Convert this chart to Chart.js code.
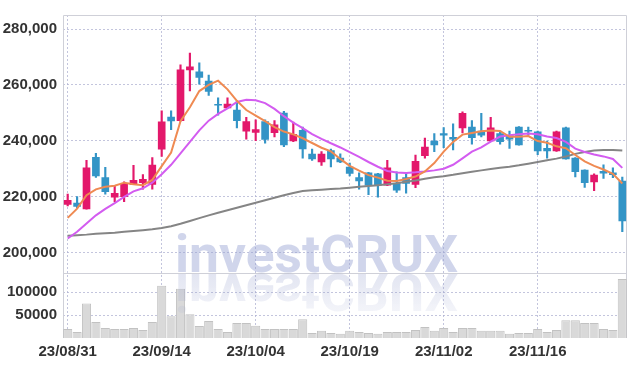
<!DOCTYPE html>
<html><head><meta charset="utf-8">
<script src="https://cdn.jsdelivr.net/npm/chart.js@4.4.1/dist/chart.umd.min.js"></script>
<style>html,body{margin:0;padding:0;background:#fff;}canvas{display:block;}</style>
</head><body>
<canvas id="c" width="637" height="366"></canvas>
<script>
const dates = ['23/08/31','23/09/01','23/09/04','23/09/05','23/09/06','23/09/07','23/09/08','23/09/11','23/09/12','23/09/13',
'23/09/14','23/09/15','23/09/18','23/09/19','23/09/20','23/09/21','23/09/22','23/09/25','23/09/26','23/09/27',
'23/10/04','23/10/05','23/10/06','23/10/10','23/10/11','23/10/12','23/10/13','23/10/16','23/10/17','23/10/18',
'23/10/19','23/10/20','23/10/23','23/10/24','23/10/25','23/10/26','23/10/27','23/10/30','23/10/31','23/11/01',
'23/11/02','23/11/03','23/11/06','23/11/07','23/11/08','23/11/09','23/11/10','23/11/13','23/11/14','23/11/15',
'23/11/16','23/11/17','23/11/20','23/11/21','23/11/22','23/11/23','23/11/24','23/11/27','23/11/28','23/11/29'];

const openP  = [217200,217700,215600,234100,226800,219800,220000,224400,225000,224400,
237000,248500,247200,265400,264700,261400,253000,251800,251000,243400,
243000,246900,242900,249900,239900,243700,235200,232400,236500,233800,
230600,226800,228500,228200,224100,224800,226800,224400,234700,239900,
242600,241200,244600,244900,243500,239900,242600,241800,244900,243700,
243200,237300,236400,244600,233800,229500,225300,229100,228500,225600];
const highP  = [220900,220000,233000,235500,230500,223900,225300,231200,227900,234000,
250700,250700,267200,271400,267900,263500,255400,255400,254200,248400,
247500,247500,247200,250500,246700,244900,237000,236100,237000,235300,
232000,228500,228700,228300,233000,228900,228500,234900,241000,242600,
244700,246100,250400,247200,249800,248400,243500,243500,245100,244900,
243500,239900,243500,244900,234000,229600,228200,231400,230300,227000];
const lowP   = [216700,216000,215500,226900,220900,218200,218200,224300,222700,222700,
234400,244000,247000,257800,260300,256200,249200,251600,244600,240600,
240000,239100,241400,237900,239700,233800,233000,231200,230600,232200,
227400,222700,220700,219800,223900,221500,221200,223200,233800,236100,
237500,236700,242800,238800,241400,239700,238800,237300,238400,242000,
235000,233800,236200,233400,227100,223300,222100,226500,226800,207500];
const closeP = [218700,216500,230300,227400,221800,221200,224800,225800,226200,231300,
246800,247100,265400,266500,262700,257700,252700,253100,247200,246900,
244000,240500,245700,238500,242300,237100,233500,235200,233500,232400,
228300,225600,224100,224100,230300,222300,224700,232600,237700,238500,
242000,240600,249800,241100,242000,244600,239700,240600,238500,243400,
236400,236400,243200,233500,228900,225000,227700,228400,227900,211300];

const ma5  = [212400,215700,220500,222600,223500,223900,225000,224400,224100,226000,
230900,235800,247000,252000,257800,260000,261500,258400,254300,251000,
249000,247000,244900,243300,242300,240900,239200,237500,236200,233500,
231000,229300,227700,226800,225700,225600,226300,227200,229000,232000,
236100,239600,242200,242800,243400,243700,243500,241400,241400,241700,
239900,239300,238000,237300,234900,232600,231000,229700,228200,224700];
const ma20 = [205000,207400,210400,213300,215600,217700,219900,221900,223000,225000,
228000,231400,235500,239600,243700,247200,249600,251600,253900,254700,
254500,253500,251400,248800,246500,244500,242400,240700,239100,237600,
235900,234200,232400,230700,229200,228600,228500,228700,229000,229400,
230000,231400,233700,236100,237600,239700,241500,242000,242300,242600,
242300,241500,241000,239600,237200,236000,235100,234400,233500,230300];
const ma60 = [206000,206200,206400,206700,206900,207100,207400,207700,208000,208300,
208800,209400,210300,211300,212300,213300,214200,215100,216000,216900,
217800,218700,219600,220500,221300,222000,222300,222500,222700,222900,
223200,223500,223800,224100,224400,224800,225300,225800,226400,226900,
227300,227800,228400,228900,229400,229900,230300,230700,231200,231800,
232400,233000,233600,234400,235300,236000,236500,236700,236700,236500];

const volume = [19700,13200,75200,34600,21800,19700,19700,21800,17500,34600,
113700,47400,107300,51700,26100,36800,19700,13200,32500,32500,
26700,19700,19700,19700,19700,41000,11100,16000,11100,9000,
16000,13200,11100,9000,13200,13200,13200,17500,23900,16000,
21800,13200,21800,21800,16000,16000,16000,9000,11100,11100,
19700,13200,17500,38900,38900,32500,32500,19700,17500,128600];

const priceTicks = [200000,220000,240000,260000,280000];
const volumeTicks = [50000,100000];

const UP = '#e3186b', DOWN = '#3394c6';
const candleColors = closeP.map((c,i)=> c >= openP[i] ? UP : DOWN);
const wicks = dates.map((d,i)=>[lowP[i], highP[i]]);
const bodies = dates.map((d,i)=>[Math.min(openP[i],closeP[i]), Math.max(openP[i],closeP[i])]);

const tickFont = {family:'"Liberation Sans Narrow","Liberation Sans",Arial,sans-serif', size:15, weight:'bold'};
const tickColor = '#333';
const gridColor = 'rgba(175,178,210,0.75)';

const framePlugin = {
  id:'frame',
  beforeDatasetsDraw(chart){
    const {ctx, chartArea:a, scales} = chart;
    ctx.save();
    ctx.strokeStyle = '#cfd0d8';
    ctx.lineWidth = 1;
    ctx.beginPath();
    ctx.moveTo(a.left+0.5, a.bottom); ctx.lineTo(a.left+0.5, a.top+0.5);
    ctx.lineTo(a.right-0.5, a.top+0.5); ctx.lineTo(a.right-0.5, a.bottom);
    const sy = Math.round(scales.y.bottom)+0.5;
    ctx.moveTo(a.left, sy); ctx.lineTo(a.right, sy);
    ctx.stroke();
    ctx.restore();
  }
};
const watermarkPlugin = {
  id:'watermark',
  afterDatasetsDraw(chart){
    const {ctx, scales} = chart;
    const base = scales.y.bottom - 1;
    const text = 'investCRUX';
    ctx.save();
    ctx.font = 'bold 52px Roboto, "Liberation Sans", sans-serif';
    const w = ctx.measureText(text).width;
    const targetW = 283;
    const cx = 316.5;
    ctx.textBaseline = 'alphabetic';
    ctx.textAlign = 'left';
    // main text
    ctx.save();
    ctx.translate(cx - targetW/2, base);
    ctx.scale(targetW/w, 1);
    ctx.fillStyle = 'rgba(150,162,210,0.45)';
    ctx.fillText(text, 0, 0);
    ctx.restore();
    // reflection
    ctx.save();
    ctx.translate(cx - targetW/2, base + 2);
    ctx.scale(targetW/w, -1);
    const g = ctx.createLinearGradient(0, 0, 0, -40);
    g.addColorStop(0, 'rgba(150,160,205,0.28)');
    g.addColorStop(1, 'rgba(150,160,205,0.10)');
    ctx.fillStyle = g;
    ctx.fillText(text, 0, 0);
    ctx.restore();
    ctx.restore();
  }
};

new Chart(document.getElementById('c'), {
  data: {
    labels: dates,
    datasets: [
      {type:'line', data: ma5, yAxisID:'y', borderColor:'#ef8a52', borderWidth:2, pointRadius:0, tension:0, order:0},
      {type:'line', data: ma20, yAxisID:'y', borderColor:'#d35cf0', borderWidth:2, pointRadius:0, tension:0, order:0},
      {type:'line', data: ma60, yAxisID:'y', borderColor:'#858585', borderWidth:2, pointRadius:0, tension:0, order:0},
      {type:'bar', data: wicks, yAxisID:'y', grouped:false, barThickness:1.5, backgroundColor: candleColors, borderWidth:0, order:2},
      {type:'bar', data: bodies, yAxisID:'y', grouped:false, barThickness:7, backgroundColor: candleColors, borderWidth:0, minBarLength:1, order:1},
      {type:'bar', data: volume, yAxisID:'yv', grouped:false, categoryPercentage:1, barPercentage:0.97, backgroundColor:'#d9d9d9', borderColor:'#c2c2c2', borderWidth:1, order:3}
    ]
  },
  options: {
    responsive:false, animation:false, events:[],
    layout:{padding:{left:0, right:10, top:9, bottom:0}},
    plugins:{legend:{display:false}, tooltip:{enabled:false}},
    scales:{
      x:{
        type:'category', offset:true,
        grid:{color:gridColor, drawTicks:false, offset:false},
        border:{display:false, dash:[2,2]},
        ticks:{autoSkip:false, maxRotation:0, minRotation:0, padding:5, font:tickFont, color:tickColor,
          callback:function(v, i){ return i % 10 === 0 ? this.getLabelForValue(v) : null; }},
        afterFit:(s)=>{ s.height = 28; }
      },
      yv:{
        type:'linear', position:'left', stack:'main', stackWeight:66.5,
        min:0, max:142000,
        afterBuildTicks:(s)=>{ s.ticks = volumeTicks.map(v=>({value:v})); },
        ticks:{padding:6, font:tickFont, color:tickColor, callback:(v)=>String(v)},
        grid:{color:gridColor, drawTicks:false},
        border:{display:false, dash:[2,2]},
        afterFit:(s)=>{ s.width = 63; }
      },
      y:{
        type:'linear', position:'left', stack:'main', stackWeight:263,
        min:192730, max:285020,
        afterBuildTicks:(s)=>{ s.ticks = priceTicks.map(v=>({value:v})); },
        ticks:{padding:6, font:tickFont, color:tickColor, callback:(v)=>v.toLocaleString('en-US')},
        grid:{color:gridColor, drawTicks:false},
        border:{display:false, dash:[2,2]},
        afterFit:(s)=>{ s.width = 63; }
      }
    }
  },
  plugins:[framePlugin, watermarkPlugin]
});
</script>
</body></html>
